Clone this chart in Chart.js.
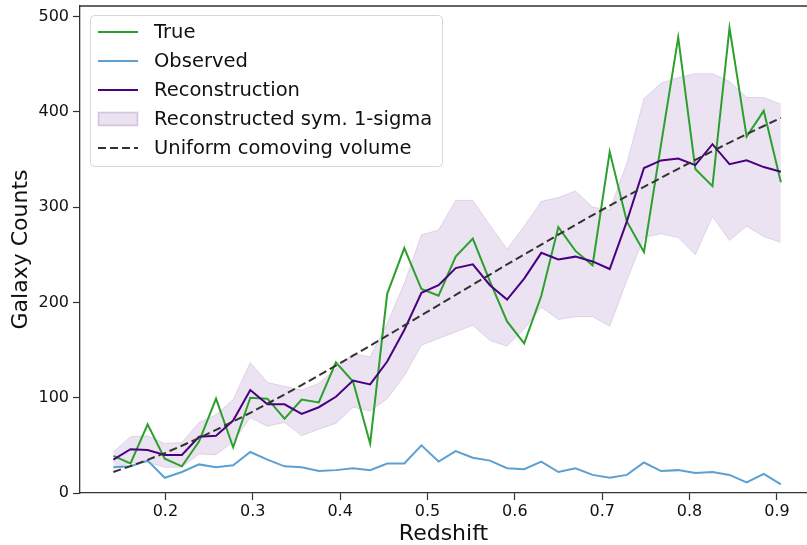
<!DOCTYPE html>
<html>
<head>
<meta charset="utf-8">
<script src="https://cdn.jsdelivr.net/npm/chart.js@4.4.1/dist/chart.umd.min.js"></script>
<style>
    html, body { margin: 0; padding: 0; background: #fff; overflow: hidden; }
    #wrap { width: 807px; height: 545px; }
</style>
</head>
<body>
<div id="wrap"><canvas id="countsChart" width="807" height="545"></canvas></div>
<script>
// Redshift bin centres
const redshift = [0.1405, 0.1601, 0.1797, 0.1993, 0.2189, 0.2385, 0.2580, 0.2776, 0.2972, 0.3168,
                  0.3364, 0.3560, 0.3756, 0.3952, 0.4148, 0.4344, 0.4539, 0.4735, 0.4931, 0.5127,
                  0.5323, 0.5519, 0.5715, 0.5911, 0.6107, 0.6303, 0.6498, 0.6694, 0.6890, 0.7086,
                  0.7282, 0.7478, 0.7674, 0.7870, 0.8066, 0.8262, 0.8457, 0.8653, 0.8849, 0.9045];

const trueCounts = [39, 31, 72, 36, 28, 54, 99, 48, 100, 99,
                    78, 98, 95, 137, 117, 52, 209, 257, 214, 207,
                    248, 267, 222, 180, 157, 207, 279, 254, 239, 358,
                    285, 253, 366, 478, 340, 322, 488, 374, 401, 326];

const observedCounts = [27, 28, 34, 16, 22, 30, 27, 29, 43, 35,
                        28, 27, 23, 24, 26, 24, 31, 31, 50, 33,
                        44, 37, 34, 26, 25, 33, 22, 26, 19, 16,
                        19, 32, 23, 24, 21, 22, 19, 11, 20, 9];

const reconCounts = [35, 46, 45, 40, 40, 59, 60, 76, 108, 93,
                     93, 83, 90, 101, 118, 114, 138, 171, 210, 218,
                     236, 240, 218, 203, 225, 252, 245, 248, 243, 235,
                     285, 341, 349, 351, 344, 366, 345, 349, 342, 337];

const sigmaUpper = [43, 59, 60, 52, 53, 74, 82, 98, 137, 116,
                    112, 108, 115, 130, 146, 143, 178, 220, 271, 276,
                    307, 307, 281, 256, 280, 306, 310, 317, 300, 297,
                    346, 414, 430, 436, 440, 440, 432, 415, 415, 408];

const sigmaLower = [26, 32, 32, 27, 27, 41, 40, 54, 79, 70,
                    74, 60, 67, 73, 90, 86, 99, 123, 155, 162,
                    169, 176, 160, 154, 172, 195, 182, 185, 185, 175,
                    223, 268, 272, 268, 250, 290, 265, 280, 269, 263];

const uniformVolume = [22.0, 28.2, 34.8, 41.9, 49.6, 57.7, 66.2, 75.0, 84.1, 93.7,
                       103.4, 113.2, 123.4, 133.6, 144.1, 154.6, 165.1, 175.8, 186.5, 197.2,
                       207.9, 218.6, 229.2, 239.8, 250.3, 260.7, 271.1, 281.3, 291.5, 301.5,
                       311.4, 321.2, 330.7, 340.2, 349.6, 358.7, 367.7, 376.5, 385.1, 393.7];

const xTicks = [0.2, 0.3, 0.4, 0.5, 0.6, 0.7, 0.8, 0.9];
const yTicks = [0, 100, 200, 300, 400, 500];

const FONT = '"DejaVu Sans", sans-serif';
const BAND_FILL = 'rgba(75, 0, 130, 0.11)';
const BAND_EDGE = 'rgba(75, 0, 130, 0.13)';

const toPoints = (values) => values.map((v, i) => ({ x: redshift[i], y: v }));

// legend drawn inside the plot, upper left, like matplotlib's
const insideLegend = {
    id: 'insideLegend',
    afterDraw(chart) {
        const ctx = chart.ctx;
        const items = chart.data.datasets.filter(d => d.legendKind);
        const box = { x: 90, y: 15, w: 352, h: 151 };
        ctx.save();
        ctx.beginPath();
        ctx.roundRect(box.x + 0.5, box.y + 0.5, box.w, box.h, 4);
        ctx.fillStyle = 'rgba(255,255,255,0.8)';
        ctx.fill();
        ctx.strokeStyle = '#d6d6d6';
        ctx.lineWidth = 1;
        ctx.stroke();

        ctx.font = '19.5px ' + FONT;
        ctx.textBaseline = 'middle';
        items.forEach((d, i) => {
            const cy = 32 + i * 29;
            if (d.legendKind === 'patch') {
                ctx.fillStyle = BAND_FILL;
                ctx.fillRect(98, cy - 7, 40, 14);
                ctx.strokeStyle = BAND_EDGE;
                ctx.strokeRect(98.5, cy - 6.5, 39, 13);
            } else {
                ctx.beginPath();
                ctx.setLineDash(d.borderDash || []);
                ctx.moveTo(98, cy);
                ctx.lineTo(138, cy);
                ctx.strokeStyle = d.borderColor;
                ctx.lineWidth = d.borderWidth;
                ctx.stroke();
                ctx.setLineDash([]);
            }
            ctx.fillStyle = '#111';
            ctx.fillText(d.label, 154, cy + 1);
        });
        ctx.restore();
    }
};

// top spine (right spine falls outside the picture)
const topSpine = {
    id: 'topSpine',
    afterDraw(chart) {
        const { ctx, chartArea } = chart;
        ctx.save();
        ctx.strokeStyle = '#333';
        ctx.lineWidth = 1.3;
        ctx.beginPath();
        ctx.moveTo(chartArea.left, chartArea.top);
        ctx.lineTo(chartArea.right, chartArea.top);
        ctx.stroke();
        ctx.restore();
    }
};

const ctx = document.getElementById('countsChart');
new Chart(ctx, {
    type: 'line',
    data: {
        datasets: [
            {
                label: 'True',
                legendKind: 'line',
                data: toPoints(trueCounts),
                borderColor: '#2ca02c',
                borderWidth: 2,
                order: 2
            },
            {
                label: 'Observed',
                legendKind: 'line',
                data: toPoints(observedCounts),
                borderColor: '#5ca0d3',
                borderWidth: 2,
                order: 3
            },
            {
                label: 'Reconstruction',
                legendKind: 'line',
                data: toPoints(reconCounts),
                borderColor: '#4b0082',
                borderWidth: 2,
                order: 1
            },
            {
                label: 'lower',
                data: toPoints(sigmaLower),
                borderColor: BAND_EDGE,
                borderWidth: 1,
                fill: false,
                order: 5
            },
            {
                label: 'Reconstructed sym. 1-sigma',
                legendKind: 'patch',
                data: toPoints(sigmaUpper),
                borderColor: BAND_EDGE,
                borderWidth: 1,
                backgroundColor: BAND_FILL,
                fill: '-1',
                order: 4
            },
            {
                label: 'Uniform comoving volume',
                legendKind: 'line',
                data: toPoints(uniformVolume),
                borderColor: '#333333',
                borderWidth: 2,
                borderDash: [8, 4],
                order: 0
            }
        ]
    },
    options: {
        responsive: false,
        animation: false,
        events: [],
        elements: {
            point: { radius: 0 },
            line: { tension: 0, borderJoinStyle: 'miter' }
        },
        layout: { padding: { top: 6, right: 0, left: 0, bottom: 0 } },
        plugins: {
            legend: { display: false },
            tooltip: { enabled: false }
        },
        scales: {
            x: {
                type: 'linear',
                min: 0.1023,
                max: 0.9344,
                afterBuildTicks: (scale) => { scale.ticks = xTicks.map(v => ({ value: v })); },
                afterFit: (scale) => {
                    scale.height = 52;
                    scale.paddingLeft = 0;
                    scale.paddingRight = 0;
                },
                grid: { drawOnChartArea: false, tickLength: 7, tickColor: '#333', tickWidth: 1.2 },
                border: { display: true, color: '#333', width: 1.3 },
                ticks: {
                    color: '#111',
                    padding: 2,
                    maxRotation: 0,
                    font: { family: FONT, size: 16 },
                    callback: (v) => v.toFixed(1)
                },
                title: {
                    display: true,
                    text: 'Redshift',
                    color: '#111',
                    padding: { top: 0, bottom: -2.5 },
                    font: { family: FONT, size: 22 }
                }
            },
            y: {
                type: 'linear',
                min: 0,
                max: 511,
                afterBuildTicks: (scale) => { scale.ticks = yTicks.map(v => ({ value: v })); },
                afterFit: (scale) => {
                    scale.width = 80;
                    scale.paddingTop = 0;
                    scale.paddingBottom = 0;
                },
                grid: { drawOnChartArea: false, tickLength: 7, tickColor: '#333', tickWidth: 1.2 },
                border: { display: true, color: '#333', width: 1.3 },
                ticks: {
                    color: '#111',
                    padding: 4,
                    font: { family: FONT, size: 16 }
                },
                title: {
                    display: true,
                    text: 'Galaxy Counts',
                    color: '#111',
                    padding: { top: 8, bottom: 0 },
                    font: { family: FONT, size: 22 }
                }
            }
        }
    },
    plugins: [insideLegend, topSpine]
});
</script>
</body>
</html>
